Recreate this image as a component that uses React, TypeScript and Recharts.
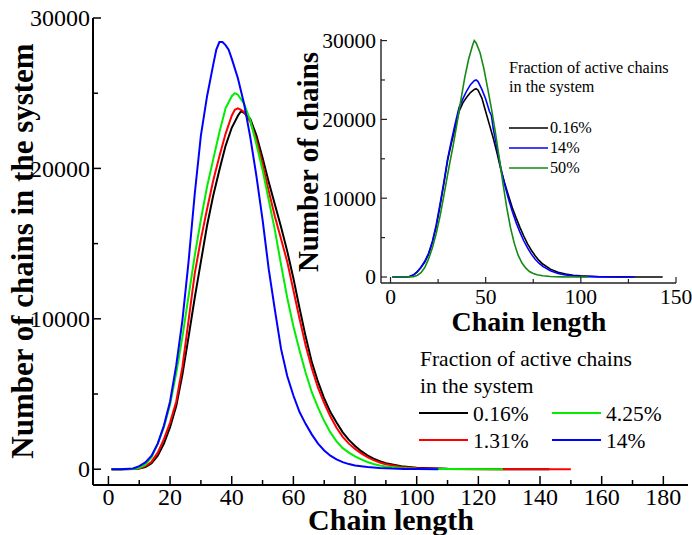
import React from 'react';
import { LineChart, Line, XAxis, YAxis } from 'recharts';

const FONT = "'Liberation Serif', 'DejaVu Serif', serif";

// ---------- Main chart data: [chain length, number of chains] ----------
const main016: [number, number][] = [
  [1, 0], [4, 0], [8, 10], [10, 40], [12, 150], [14, 400], [16, 900], [18, 1700], [20, 2800], [22, 4200],
  [24, 6300], [26, 8800], [28, 11400], [30, 13800], [32, 16200], [34, 18200], [36, 19900], [38, 21500],
  [40, 22700], [42, 23500], [43, 23800], [44, 23700], [46, 23300], [48, 22200], [50, 20700], [52, 19100],
  [54, 17600], [56, 16100], [58, 14500], [60, 12700], [62, 10700], [64, 8800], [66, 7100], [68, 5800],
  [70, 4700], [72, 3800], [74, 3100], [76, 2450], [78, 1950], [80, 1550], [82, 1200], [84, 920], [86, 700],
  [88, 530], [90, 400], [95, 190], [100, 90], [110, 25], [120, 8], [130, 2], [143, 0],
];
const main131: [number, number][] = [
  [1, 0], [4, 0], [8, 15], [10, 60], [12, 200], [14, 500], [16, 1100], [18, 2000], [20, 3100], [22, 4500],
  [24, 6800], [26, 9900], [28, 13000], [30, 15300], [32, 17300], [34, 19200], [36, 20800], [38, 22300],
  [40, 23500], [41, 23900], [42, 24000], [43, 23900], [44, 23750], [46, 23100], [48, 21900], [50, 20300],
  [52, 18500], [54, 16800], [56, 15300], [58, 13800], [60, 11900], [62, 10000], [64, 8200], [66, 6700],
  [68, 5400], [70, 4400], [72, 3500], [74, 2750], [76, 2150], [78, 1700], [80, 1350], [82, 1050], [84, 800],
  [86, 600], [88, 450], [90, 330], [95, 150], [100, 70], [110, 20], [120, 5], [130, 1], [150, 0],
];
const main425: [number, number][] = [
  [1, 0], [4, 0], [8, 20], [10, 100], [12, 300], [14, 800], [16, 1700], [18, 2800], [20, 4300], [22, 6400],
  [24, 8800], [26, 11500], [28, 14200], [30, 16600], [32, 18800], [34, 20600], [36, 22400], [38, 24000],
  [40, 24800], [41, 25000], [42, 24900], [44, 24300], [46, 23200], [48, 21600], [50, 19900], [52, 17900],
  [54, 15900], [56, 13600], [58, 11400], [60, 9500], [62, 7900], [64, 6400], [66, 5100], [68, 4100],
  [70, 3200], [72, 2450], [74, 1850], [76, 1400], [78, 1100], [80, 850], [82, 650], [84, 480], [86, 350],
  [88, 250], [90, 180], [95, 80], [100, 30], [110, 8], [128, 0],
];
const main14: [number, number][] = [
  [1, 0], [4, 0], [8, 50], [10, 200], [12, 450], [14, 900], [16, 1700], [18, 2900], [20, 4500], [22, 6900],
  [24, 9900], [26, 13800], [28, 18300], [30, 22200], [32, 24800], [34, 26900], [35, 27900], [36, 28400],
  [37, 28400], [38, 28200], [39, 27900], [40, 27300], [42, 26000], [44, 24300], [46, 22100], [48, 19500],
  [50, 16600], [52, 13300], [54, 10600], [56, 8000], [58, 6200], [60, 4900], [62, 3800], [64, 3000],
  [66, 2300], [68, 1700], [70, 1250], [72, 900], [74, 650], [76, 470], [78, 340], [80, 250], [84, 140],
  [88, 80], [92, 40], [96, 20], [100, 10], [107, 0],
];

// ---------- Inset data ----------
const inset016: [number, number][] = [
  [1, 0], [8, 0], [10, 60], [12, 250], [14, 650], [16, 1200], [18, 1900], [20, 2900], [22, 4400], [24, 6400],
  [26, 9000], [28, 11800], [30, 14800], [32, 17000], [34, 19000], [36, 21000], [38, 22100], [40, 22800],
  [42, 23400], [44, 23800], [45, 23900], [46, 23700], [48, 22700], [50, 21000], [52, 19300], [54, 17600],
  [56, 15700], [58, 13600], [60, 11900], [62, 10300], [64, 8800], [66, 7500], [68, 6300], [70, 5200],
  [72, 4200], [74, 3400], [76, 2700], [78, 2100], [80, 1650], [84, 1000], [88, 600], [92, 380], [96, 230],
  [100, 140], [110, 40], [120, 12], [130, 3], [143, 0],
];
const inset14: [number, number][] = [
  [1, 0], [8, 0], [10, 60], [12, 250], [14, 650], [16, 1250], [18, 2000], [20, 3000], [22, 4500], [24, 6600],
  [26, 9200], [28, 12000], [30, 15000], [32, 17300], [34, 19500], [36, 21500], [38, 22600], [40, 23600],
  [42, 24400], [44, 24900], [45, 25000], [46, 24800], [48, 23800], [50, 22600], [52, 21000], [53, 20500],
  [54, 18800], [56, 16300], [58, 13800], [60, 11700], [62, 9900], [64, 8300], [66, 6900], [68, 5700],
  [70, 4600], [72, 3700], [74, 2900], [76, 2250], [78, 1750], [80, 1350], [84, 800], [88, 450], [92, 250],
  [96, 140], [100, 80], [110, 20], [120, 5], [128, 0],
];
const inset50: [number, number][] = [
  [1, 0], [10, 0], [12, 50], [14, 200], [16, 550], [18, 1200], [20, 2300], [22, 3700], [24, 5500], [26, 7700],
  [28, 10300], [30, 13000], [31, 14300], [33, 16800], [35, 19600], [37, 22500], [39, 25300], [41, 27600],
  [43, 29300], [44, 30000], [45, 29700], [47, 28500], [49, 26500], [51, 24000], [53, 21400], [55, 18500],
  [57, 15300], [59, 12000], [61, 8900], [63, 6300], [65, 4300], [67, 2800], [69, 1800], [71, 1150],
  [73, 700], [75, 450], [77, 280], [80, 150], [84, 60], [90, 20], [96, 5], [104, 0],
];

const legendTitle = ['Fraction of active chains', 'in the system'];
const mainNames = ['0.16%', '1.31%', '4.25%', '14%'];
const mainColors = ['#000000', '#ff0000', '#00ee00', '#0000ff'];
const insetNames = ['0.16%', '14%', '50%'];
const insetColors = ['#000000', '#0000ff', '#138a13'];

const mainXTicks = [0, 10, 20, 30, 40, 50, 60, 70, 80, 90, 100, 110, 120, 130, 140, 150, 160, 170, 180];
const mainXLabels = [0, 20, 40, 60, 80, 100, 120, 140, 160, 180];
const mainYTicks = [0, 5000, 10000, 15000, 20000, 25000, 30000];
const mainYLabels = [0, 10000, 20000, 30000];
const insetXTicks = [0, 25, 50, 75, 100, 125, 150];
const insetXLabels = [0, 50, 100, 150];
const insetYTicks = [0, 5000, 10000, 15000, 20000, 25000, 30000];
const insetYLabels = [0, 10000, 20000, 30000];

const toData = (pairs: [number, number][]) => pairs.map(([x, y]) => ({ x, y }));

type TickOpts = {
  orient: 'bottom' | 'top' | 'left' | 'right';
  labels: number[];
  majorLen: number;
  minorLen: number;
  fontSize: number;
  labelOffset: number;
  stroke: string;
  strokeWidth: number;
  showLabels: boolean;
};

const txt = (size: number, bold = false): React.CSSProperties => ({
  fontFamily: FONT,
  fontSize: size,
  fontWeight: bold ? 'bold' : 'normal',
  fill: '#000',
});

function makeTick(o: TickOpts) {
  return (props: any) => {
    const { x, y, payload } = props;
    const v = payload.value;
    const isMajor = o.labels.includes(v);
    const len = isMajor ? o.majorLen : o.minorLen;
    let x2 = x;
    let y2 = y;
    if (o.orient === 'bottom') y2 = y - len;
    if (o.orient === 'top') y2 = y + len;
    if (o.orient === 'left') x2 = x + len;
    if (o.orient === 'right') x2 = x - len;
    let label = null;
    if (o.showLabels && isMajor) {
      if (o.orient === 'bottom') {
        label = (
          <text x={x} y={y + o.labelOffset} textAnchor="middle" style={txt(o.fontSize)}>
            {v}
          </text>
        );
      } else if (o.orient === 'left') {
        label = (
          <text x={x - o.labelOffset} y={y} dy="0.34em" textAnchor="end" style={txt(o.fontSize)}>
            {v}
          </text>
        );
      }
    }
    return (
      <g>
        <line x1={x} y1={y} x2={x2} y2={y2} stroke={o.stroke} strokeWidth={o.strokeWidth} />
        {label}
      </g>
    );
  };
}

export default function App() {
  const mainSeries = [main016, main131, main425, main14];
  const insetSeries = [inset016, inset14, inset50];
  const mainAxis = { stroke: '#000', strokeWidth: 2 };
  const insetAxis = { stroke: '#222', strokeWidth: 1.4 };

  return (
    <div style={{ position: 'absolute', left: 0, top: 0, width: 692, height: 535, background: '#fff', overflow: 'hidden', fontFamily: FONT }}>
      <div style={{ position: 'absolute', left: 0, top: 0 }}>
        <LineChart width={692} height={535} margin={{ top: 18, right: 4, bottom: 20, left: 0 }}>
          <XAxis
            xAxisId={0}
            dataKey="x"
            type="number"
            domain={[-5, 188]}
            allowDataOverflow
            ticks={mainXTicks}
            interval={0}
            height={30}
            tickSize={0}
            tickMargin={0}
            tickLine={false}
            axisLine={mainAxis}
            tick={makeTick({ orient: 'bottom', labels: mainXLabels, majorLen: 9, minorLen: 5, fontSize: 24, labelOffset: 20, stroke: '#000', strokeWidth: 1.5, showLabels: true })}
          />
          <XAxis
            xAxisId="top"
            orientation="top"
            dataKey="x"
            type="number"
            domain={[-5, 188]}
            allowDataOverflow
            ticks={mainXTicks}
            interval={0}
            height={0}
            tickSize={0}
            tickMargin={0}
            tickLine={false}
            axisLine={mainAxis}
            tick={makeTick({ orient: 'top', labels: mainXLabels, majorLen: 8, minorLen: 5, fontSize: 0, labelOffset: 0, stroke: '#000', strokeWidth: 1.5, showLabels: false })}
          />
          <YAxis
            yAxisId={0}
            type="number"
            domain={[-1050, 30000]}
            allowDataOverflow
            ticks={mainYTicks}
            interval={0}
            width={93}
            tickSize={0}
            tickMargin={0}
            tickLine={false}
            axisLine={mainAxis}
            tick={makeTick({ orient: 'left', labels: mainYLabels, majorLen: 8, minorLen: 5, fontSize: 24, labelOffset: 3, stroke: '#000', strokeWidth: 1.5, showLabels: true })}
          />
          <YAxis
            yAxisId="right"
            orientation="right"
            type="number"
            domain={[-1050, 30000]}
            allowDataOverflow
            ticks={mainYTicks}
            interval={0}
            width={0}
            tickSize={0}
            tickMargin={0}
            tickLine={false}
            axisLine={mainAxis}
            tick={makeTick({ orient: 'right', labels: mainYLabels, majorLen: 8, minorLen: 5, fontSize: 0, labelOffset: 0, stroke: '#000', strokeWidth: 1.5, showLabels: false })}
          />
          {mainSeries.map((s, i) => (
            <Line
              key={mainNames[i]}
              data={toData(s)}
              dataKey="y"
              name={mainNames[i]}
              type="linear"
              stroke={mainColors[i]}
              strokeWidth={2}
              dot={false}
              activeDot={false}
              isAnimationActive={false}
            />
          ))}
        </LineChart>
      </div>

      <div style={{ position: 'absolute', left: 300, top: 0 }}>
        <LineChart width={392} height={340} margin={{ top: 39, right: 16, bottom: 30, left: 0 }}>
          <XAxis
            xAxisId={0}
            dataKey="x"
            type="number"
            domain={[-5, 150]}
            allowDataOverflow
            ticks={insetXTicks}
            interval={0}
            height={27}
            tickSize={0}
            tickMargin={0}
            tickLine={false}
            axisLine={insetAxis}
            tick={makeTick({ orient: 'bottom', labels: insetXLabels, majorLen: 6, minorLen: 4, fontSize: 21.5, labelOffset: 21, stroke: '#222', strokeWidth: 1.2, showLabels: true })}
          />
          <XAxis
            xAxisId="top"
            orientation="top"
            dataKey="x"
            type="number"
            domain={[-5, 150]}
            allowDataOverflow
            ticks={insetXTicks}
            interval={0}
            height={0}
            tickSize={0}
            tickMargin={0}
            tickLine={false}
            axisLine={insetAxis}
            tick={makeTick({ orient: 'top', labels: insetXLabels, majorLen: 6, minorLen: 4, fontSize: 0, labelOffset: 0, stroke: '#222', strokeWidth: 1.2, showLabels: false })}
          />
          <YAxis
            yAxisId={0}
            type="number"
            domain={[-760, 30200]}
            allowDataOverflow
            ticks={insetYTicks}
            interval={0}
            width={81}
            tickSize={0}
            tickMargin={0}
            tickLine={false}
            axisLine={insetAxis}
            tick={makeTick({ orient: 'left', labels: insetYLabels, majorLen: 6, minorLen: 4, fontSize: 21.5, labelOffset: 5, stroke: '#222', strokeWidth: 1.2, showLabels: true })}
          />
          <YAxis
            yAxisId="right"
            orientation="right"
            type="number"
            domain={[-760, 30200]}
            allowDataOverflow
            ticks={insetYTicks}
            interval={0}
            width={0}
            tickSize={0}
            tickMargin={0}
            tickLine={false}
            axisLine={insetAxis}
            tick={makeTick({ orient: 'right', labels: insetYLabels, majorLen: 6, minorLen: 4, fontSize: 0, labelOffset: 0, stroke: '#222', strokeWidth: 1.2, showLabels: false })}
          />
          {insetSeries.map((s, i) => (
            <Line
              key={insetNames[i]}
              data={toData(s)}
              dataKey="y"
              name={insetNames[i]}
              type="linear"
              stroke={insetColors[i]}
              strokeWidth={1.6}
              dot={false}
              activeDot={false}
              isAnimationActive={false}
            />
          ))}
        </LineChart>
      </div>

      <svg width={692} height={535} style={{ position: 'absolute', left: 0, top: 0, pointerEvents: 'none' }}>
        <text x={33} y={251} transform="rotate(-90, 33, 251)" textAnchor="middle" style={txt(31, true)}>
          Number of chains in the system
        </text>
        <text x={391} y={530} textAnchor="middle" style={txt(30, true)}>
          Chain length
        </text>
        <text x={318} y={162} transform="rotate(-90, 318, 162)" textAnchor="middle" style={txt(29, true)}>
          Number of chains
        </text>
        <text x={529} y={331} textAnchor="middle" style={txt(28, true)}>
          Chain length
        </text>

        <text x={420} y={366} style={txt(21.5)}>{legendTitle[0]}</text>
        <text x={420} y={393} style={txt(21.5)}>{legendTitle[1]}</text>
        {mainNames.map((n, i) => {
          const col = i < 2 ? 0 : 1;
          const row = i % 2;
          const lx = col === 0 ? 419 : 552;
          const ly = 413 + row * 27;
          return (
            <g key={n}>
              <line x1={lx} y1={ly} x2={lx + 49} y2={ly} stroke={mainColors[i]} strokeWidth={2} />
              <text x={lx + 54} y={ly + 8} style={txt(21.5)}>{n}</text>
            </g>
          );
        })}

        <text x={509} y={73} style={txt(16.2)}>{legendTitle[0]}</text>
        <text x={509} y={92} style={txt(16.2)}>{legendTitle[1]}</text>
        {insetNames.map((n, i) => {
          const ly = 128 + i * 20;
          return (
            <g key={n}>
              <line x1={509} y1={ly} x2={548} y2={ly} stroke={insetColors[i]} strokeWidth={1.6} />
              <text x={550} y={ly + 5} style={txt(16.2)}>{n}</text>
            </g>
          );
        })}
      </svg>
    </div>
  );
}
